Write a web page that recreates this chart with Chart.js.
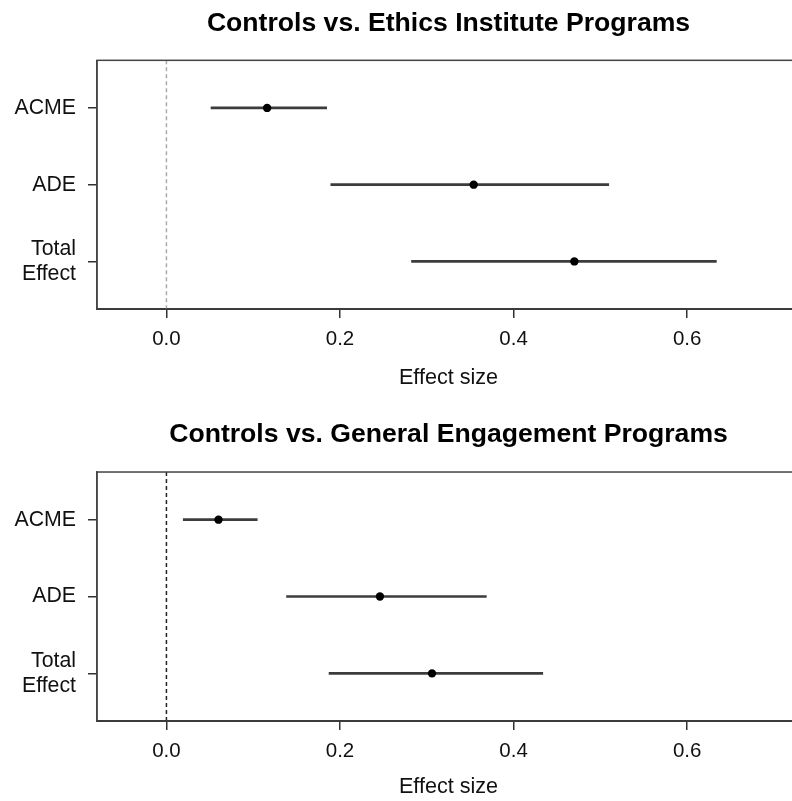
<!DOCTYPE html>
<html>
<head>
<meta charset="utf-8">
<script src="https://cdn.jsdelivr.net/npm/chart.js@4/dist/chart.umd.min.js"></script>
<style>
  html, body { margin: 0; padding: 0; background: #fff; overflow: hidden; width: 792px; height: 801px; position: relative; }
  .panel { position: absolute; left: 0; }
  #topPanel { top: 0; }
  #bottomPanel { top: 400px; }
</style>
</head>
<body>
<div class="panel" id="topPanel"><canvas id="ethicsChart" width="840" height="400"></canvas></div>
<div class="panel" id="bottomPanel"><canvas id="engageChart" width="840" height="401"></canvas></div>
<script>
// Rows of each forest plot, top to bottom
const categories = ['ACME', 'ADE', ['Total', 'Effect']];
const xTickValues = [0, 0.2, 0.4, 0.6];
const xLimits = [-0.08, 0.73];
const rowLimits = [0.38, 3.62];
const nullEffect = 0;

// Controls vs. Ethics Institute Programs
const ethicsEstimate = [0.116, 0.354, 0.470];
const ethicsLower    = [0.051, 0.189, 0.282];
const ethicsUpper    = [0.185, 0.510, 0.634];

// Controls vs. General Engagement Programs
const engageEstimate = [0.060, 0.246, 0.306];
const engageLower    = [0.019, 0.138, 0.187];
const engageUpper    = [0.105, 0.369, 0.434];

const FONT = "'Liberation Sans', Arial, Helvetica, sans-serif";

// Box around the plotting region
const framePlugin = {
  id: 'frame',
  afterDatasetsDraw(chart) {
    const { ctx, chartArea: a } = chart;
    ctx.save();
    ctx.strokeStyle = '#444';
    ctx.lineWidth = 1.5;
    ctx.strokeRect(a.left, a.top, a.right - a.left, a.bottom - a.top);
    ctx.restore();
  }
};

function makePanel(canvasId, title, est, lo, hi, refColor, cfg) {
  const datasets = [];
  datasets.push({
    label: 'estimate',
    data: est.map((v, i) => ({ x: v, y: i + 1 })),
    showLine: false,
    pointRadius: 4.2,
    pointHoverRadius: 4.2,
    pointBackgroundColor: '#000',
    pointBorderWidth: 0
  });
  lo.forEach((v, i) => {
    datasets.push({
      label: 'interval ' + (i + 1),
      data: [{ x: v, y: i + 1 }, { x: hi[i], y: i + 1 }],
      showLine: true,
      borderColor: '#3c3c3c',
      borderWidth: 2.6,
      pointRadius: 0
    });
  });
  datasets.push({
    label: 'no effect',
    data: [{ x: nullEffect, y: rowLimits[0] }, { x: nullEffect, y: rowLimits[1] }],
    showLine: true,
    borderColor: refColor,
    borderWidth: 1.5,
    borderDash: [4, 3],
    pointRadius: 0
  });

  const tickGrid = {
    display: true,
    drawOnChartArea: false,
    drawTicks: true,
    tickLength: 9,
    color: '#333',
    lineWidth: 1.5
  };

  return new Chart(document.getElementById(canvasId), {
    type: 'scatter',
    data: { datasets },
    plugins: [framePlugin],
    options: {
      responsive: false,
      animation: false,
      events: [],
      layout: { padding: { left: 0, right: 40, top: 0, bottom: 0 } },
      plugins: {
        legend: { display: false },
        tooltip: { enabled: false },
        title: {
          display: true,
          text: title,
          fullSize: false,
          color: '#000',
          font: { family: FONT, size: 26.6, weight: 'bold', lineHeight: 1.2 },
          padding: { top: cfg.titleTop, bottom: cfg.titleBottom }
        }
      },
      scales: {
        x: {
          type: 'linear',
          min: xLimits[0],
          max: xLimits[1],
          afterBuildTicks: (s) => { s.ticks = xTickValues.map(v => ({ value: v })); },
          afterFit: (s) => { s.height = cfg.xAxisHeight; },
          ticks: {
            autoSkip: false,
            maxRotation: 0,
            padding: 9,
            color: '#111',
            font: { family: FONT, size: 20.5 },
            callback: (v) => Number(v).toFixed(1)
          },
          grid: tickGrid,
          border: { display: true, color: '#222', width: 2 },
          title: {
            display: true,
            text: 'Effect size',
            color: '#111',
            font: { family: FONT, size: 21.6 },
            padding: { top: 0, bottom: cfg.xTitleBottom }
          }
        },
        y: {
          type: 'linear',
          reverse: true,
          min: rowLimits[0],
          max: rowLimits[1],
          afterBuildTicks: (s) => { s.ticks = categories.map((c, i) => ({ value: i + 1 })); },
          afterFit: (s) => { s.width = 97; },
          ticks: {
            autoSkip: false,
            padding: 12,
            color: '#111',
            font: { family: FONT, size: 21.3, lineHeight: 1.19 },
            callback: (v) => categories[v - 1]
          },
          grid: tickGrid,
          border: { display: true, color: '#444', width: 1.5 }
        }
      }
    }
  });
}

makePanel('ethicsChart', 'Controls vs. Ethics Institute Programs',
  ethicsEstimate, ethicsLower, ethicsUpper, '#aaaaaa',
  { titleTop: 7.2, titleBottom: 21.2, xAxisHeight: 91, xTitleBottom: 9.4 });

makePanel('engageChart', 'Controls vs. General Engagement Programs',
  engageEstimate, engageLower, engageUpper, '#222222',
  { titleTop: 18.2, titleBottom: 21.9, xAxisHeight: 80, xTitleBottom: 1.0 });
</script>
</body>
</html>
